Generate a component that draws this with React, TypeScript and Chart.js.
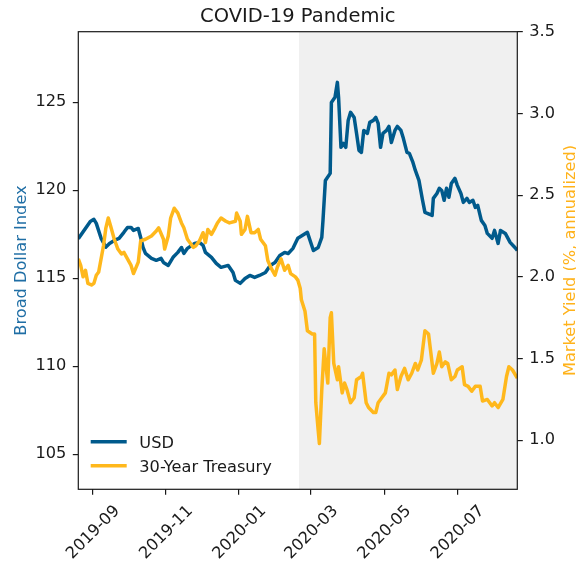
import React, { useEffect, useRef } from "react";
import { Chart, registerables } from "chart.js";

Chart.register(...registerables);

// ---------- data ----------
const usdDates: string[] = [
  "2019-08-20", "2019-08-30", "2019-09-02", "2019-09-04", "2019-09-08", "2019-09-12", "2019-09-15",
  "2019-09-19", "2019-09-23", "2019-09-27", "2019-09-30", "2019-10-03", "2019-10-05", "2019-10-09",
  "2019-10-11", "2019-10-13", "2019-10-15", "2019-10-20", "2019-10-24", "2019-10-28", "2019-10-30",
  "2019-11-03", "2019-11-07", "2019-11-11", "2019-11-14", "2019-11-16", "2019-11-19", "2019-11-25",
  "2019-11-29", "2019-12-02", "2019-12-04", "2019-12-09", "2019-12-13", "2019-12-17", "2019-12-23",
  "2019-12-27", "2019-12-29", "2020-01-02", "2020-01-06", "2020-01-10", "2020-01-14", "2020-01-18",
  "2020-01-23", "2020-01-27", "2020-01-31", "2020-02-04", "2020-02-08", "2020-02-11", "2020-02-15",
  "2020-02-19", "2020-02-23", "2020-02-27", "2020-03-03", "2020-03-07", "2020-03-10", "2020-03-11",
  "2020-03-13", "2020-03-17", "2020-03-18", "2020-03-21", "2020-03-23", "2020-03-24", "2020-03-26",
  "2020-03-28", "2020-03-30", "2020-04-01", "2020-04-03", "2020-04-06", "2020-04-08", "2020-04-10",
  "2020-04-12", "2020-04-14", "2020-04-17", "2020-04-19", "2020-04-22", "2020-04-24", "2020-04-26",
  "2020-04-28", "2020-04-30", "2020-05-03", "2020-05-05", "2020-05-07", "2020-05-10", "2020-05-12",
  "2020-05-15", "2020-05-17", "2020-05-20", "2020-05-22", "2020-05-25", "2020-05-27", "2020-05-30",
  "2020-06-02", "2020-06-04", "2020-06-06", "2020-06-10", "2020-06-11", "2020-06-14", "2020-06-16",
  "2020-06-18", "2020-06-20", "2020-06-22", "2020-06-24", "2020-06-26", "2020-06-29", "2020-07-01",
  "2020-07-04", "2020-07-06", "2020-07-09", "2020-07-11", "2020-07-14", "2020-07-16", "2020-07-18",
  "2020-07-21", "2020-07-24", "2020-07-26", "2020-07-30", "2020-08-01", "2020-08-04", "2020-08-06",
  "2020-08-10", "2020-08-14", "2020-08-18", "2020-08-20",
];
const usdValues: number[] = [
  117.24, 118.22, 118.34, 118.11, 117.26, 116.76, 116.97,
  117.14, 117.26, 117.6, 117.88, 117.88, 117.71, 117.82,
  117.31, 116.74, 116.4, 116.12, 116.01, 116.12, 115.89,
  115.72, 116.18, 116.46, 116.74, 116.4, 116.69, 116.97,
  117.03, 116.86, 116.46, 116.18, 115.84, 115.61, 115.72,
  115.32, 114.87, 114.7, 114.98, 115.15, 115.04, 115.15,
  115.32, 115.72, 115.89, 116.29, 116.46, 116.4, 116.69,
  117.26, 117.43, 117.6, 116.57, 116.74, 117.31, 118.28,
  120.55, 120.95, 124.98, 125.27, 126.12, 125.27, 122.43,
  122.65, 122.43, 123.96, 124.42, 124.13, 123.22, 122.26,
  122.14, 123.39, 123.22, 123.85, 123.96, 124.13, 123.79,
  122.43, 123.22, 123.39, 123.62, 122.71, 123.39, 123.62,
  123.39, 122.94, 122.14, 122.09, 121.57, 121.12, 120.55,
  119.42, 118.73, 118.68, 118.56, 119.53, 119.81, 120.1,
  119.98, 119.42, 120.1, 119.59, 120.38, 120.67, 120.27,
  119.81, 119.3, 119.53, 119.3, 119.42, 119.02, 119.13,
  118.28, 117.99, 117.54, 117.26, 117.71, 116.97, 117.71,
  117.54, 117.03, 116.74, 116.57,
];

const tsyDates: string[] = [
  "2019-08-20", "2019-08-22", "2019-08-24", "2019-08-26", "2019-08-28", "2019-08-31", "2019-09-02",
  "2019-09-04", "2019-09-06", "2019-09-10", "2019-09-12", "2019-09-14", "2019-09-16", "2019-09-19",
  "2019-09-22", "2019-09-25", "2019-09-27", "2019-09-30", "2019-10-03", "2019-10-05", "2019-10-09",
  "2019-10-11", "2019-10-15", "2019-10-20", "2019-10-24", "2019-10-26", "2019-10-30", "2019-10-31",
  "2019-11-03", "2019-11-05", "2019-11-08", "2019-11-11", "2019-11-14", "2019-11-16", "2019-11-19",
  "2019-11-24", "2019-11-26", "2019-11-29", "2019-12-02", "2019-12-04", "2019-12-06", "2019-12-09",
  "2019-12-12", "2019-12-14", "2019-12-17", "2019-12-21", "2019-12-24", "2019-12-29", "2019-12-30",
  "2020-01-02", "2020-01-03", "2020-01-06", "2020-01-08", "2020-01-11", "2020-01-14", "2020-01-17",
  "2020-01-19", "2020-01-23", "2020-01-25", "2020-01-28", "2020-01-31", "2020-02-02", "2020-02-05",
  "2020-02-08", "2020-02-11", "2020-02-13", "2020-02-17", "2020-02-19", "2020-02-21", "2020-02-22",
  "2020-02-25", "2020-02-27", "2020-03-02", "2020-03-04", "2020-03-05", "2020-03-07", "2020-03-08",
  "2020-03-10", "2020-03-12", "2020-03-15", "2020-03-17", "2020-03-18", "2020-03-20", "2020-03-23",
  "2020-03-24", "2020-03-27", "2020-03-29", "2020-03-31", "2020-04-03", "2020-04-06", "2020-04-08",
  "2020-04-12", "2020-04-13", "2020-04-16", "2020-04-18", "2020-04-22", "2020-04-24", "2020-04-26",
  "2020-04-29", "2020-05-02", "2020-05-05", "2020-05-07", "2020-05-10", "2020-05-12", "2020-05-15",
  "2020-05-18", "2020-05-21", "2020-05-24", "2020-05-27", "2020-05-29", "2020-06-01", "2020-06-04",
  "2020-06-07", "2020-06-11", "2020-06-14", "2020-06-16", "2020-06-18", "2020-06-21", "2020-06-23",
  "2020-06-26", "2020-06-29", "2020-07-01", "2020-07-05", "2020-07-07", "2020-07-10", "2020-07-13",
  "2020-07-16", "2020-07-20", "2020-07-22", "2020-07-26", "2020-07-30", "2020-08-01", "2020-08-04",
  "2020-08-08", "2020-08-11", "2020-08-13", "2020-08-16", "2020-08-20",
];
const tsyValues: number[] = [
  2.11, 2.07, 2.0, 2.04, 1.96, 1.95, 1.96,
  2.01, 2.03, 2.19, 2.3, 2.36, 2.31, 2.23,
  2.17, 2.14, 2.15, 2.11, 2.07, 2.02, 2.09,
  2.22, 2.23, 2.25, 2.28, 2.3, 2.23, 2.17,
  2.25, 2.36, 2.42, 2.39, 2.33, 2.3, 2.23,
  2.18, 2.19, 2.22, 2.27, 2.21, 2.29, 2.26,
  2.3, 2.33, 2.36, 2.34, 2.33, 2.34, 2.39,
  2.34, 2.26, 2.29, 2.37, 2.27, 2.27, 2.29,
  2.23, 2.19, 2.1, 2.05, 2.01, 2.06, 2.11,
  2.04, 2.07, 2.02, 2.0, 1.98, 1.93, 1.86,
  1.79, 1.67, 1.65, 1.65, 1.23, 1.06, 0.98,
  1.31, 1.56, 1.35, 1.75, 1.78, 1.47, 1.37,
  1.45, 1.29, 1.35, 1.31, 1.23, 1.26, 1.37,
  1.39, 1.41, 1.23, 1.2, 1.17, 1.17, 1.23,
  1.26, 1.29, 1.41, 1.4, 1.43, 1.31, 1.39,
  1.44, 1.37, 1.41, 1.47, 1.43, 1.49, 1.67,
  1.65, 1.41, 1.47, 1.54, 1.45, 1.48, 1.47,
  1.37, 1.39, 1.43, 1.45, 1.34, 1.33, 1.3,
  1.33, 1.33, 1.24, 1.25, 1.21, 1.23, 1.2,
  1.25, 1.39, 1.45, 1.43, 1.38,
];

const xMonthTicks: string[] = ["2019-09-01", "2019-11-01", "2020-01-01", "2020-03-01", "2020-05-01", "2020-07-01"];
const leftTicks: number[] = [105, 110, 115, 120, 125];
const rightTicks: number[] = [1.0, 1.5, 2.0, 2.5, 3.0, 3.5];
const xRange: string[] = ["2019-08-20", "2020-08-20"];
const leftRange: number[] = [103, 129];
const rightRange: number[] = [0.7, 3.5];
const pandemicStart = "2020-02-20";

const TITLE = "COVID-19 Pandemic";
const LEFT_LABEL = "Broad Dollar Index";
const RIGHT_LABEL = "Market Yield (%, annualized)";
const USD_LABEL = "USD";
const TSY_LABEL = "30-Year Treasury";

// ---------- styles ----------
const BLUE = "#005a8c";
const GOLD = "#ffb81c";
const BLUE_TEXT = "#1f6ea5";
const GOLD_TEXT = "#ffb21a";
const INK = "#1a1a1a";
const FONT = "'DejaVu Sans', Verdana, sans-serif";
const FS = 16.2;

const ts = (s: string) => {
  const [y, m, d] = s.split("-").map(Number);
  return Date.UTC(y, m - 1, d);
};
const fmtMonth = (v: number) => {
  const d = new Date(v);
  return `${d.getUTCFullYear()}-${String(d.getUTCMonth() + 1).padStart(2, "0")}`;
};

const customPlugin = {
  id: "mplStyle",
  beforeDatasetsDraw(chart: any) {
    const { ctx, chartArea: a, scales } = chart;
    const x0 = scales.x.getPixelForValue(ts(pandemicStart));
    ctx.save();
    ctx.fillStyle = "#f0f0f0";
    ctx.fillRect(x0, a.top, a.right - x0, a.bottom - a.top);
    ctx.restore();
  },
  afterDatasetsDraw(chart: any) {
    const { ctx, chartArea: a } = chart;
    ctx.save();
    // frame
    ctx.strokeStyle = INK;
    ctx.lineWidth = 1.2;
    ctx.strokeRect(a.left, a.top, a.right - a.left, a.bottom - a.top);
    // legend
    const items = [
      { label: USD_LABEL, color: BLUE, y: a.bottom - 47.6 },
      { label: TSY_LABEL, color: GOLD, y: a.bottom - 23.6 },
    ];
    ctx.font = `${FS}px ${FONT}`;
    ctx.textAlign = "left";
    ctx.textBaseline = "alphabetic";
    for (const it of items) {
      ctx.strokeStyle = it.color;
      ctx.lineWidth = 3.5;
      ctx.lineCap = "butt";
      ctx.beginPath();
      ctx.moveTo(a.left + 12.4, it.y);
      ctx.lineTo(a.left + 48.4, it.y);
      ctx.stroke();
      ctx.fillStyle = INK;
      ctx.fillText(it.label, a.left + 61, it.y + 6);
    }
    ctx.restore();
  },
  afterDraw(chart: any) {
    const { ctx, chartArea: a, scales } = chart;
    const midY = (a.top + a.bottom) / 2;
    ctx.save();
    // title
    ctx.fillStyle = INK;
    ctx.font = `19.5px ${FONT}`;
    ctx.textAlign = "center";
    ctx.textBaseline = "alphabetic";
    ctx.fillText(TITLE, (a.left + a.right) / 2, a.top - 10);
    // axis titles
    ctx.font = `${FS}px ${FONT}`;
    ctx.save();
    ctx.translate(26, midY);
    ctx.rotate(-Math.PI / 2);
    ctx.fillStyle = BLUE_TEXT;
    ctx.fillText(LEFT_LABEL, 0, 0);
    ctx.restore();
    ctx.save();
    ctx.translate(575, midY);
    ctx.rotate(-Math.PI / 2);
    ctx.fillStyle = GOLD_TEXT;
    ctx.fillText(RIGHT_LABEL, 0, 0);
    ctx.restore();
    // rotated x tick labels (centered, matplotlib style)
    ctx.fillStyle = INK;
    for (const t of xMonthTicks) {
      const v = ts(t);
      const x = scales.x.getPixelForValue(v);
      ctx.save();
      ctx.translate(x - 0.6, a.bottom + 42);
      ctx.rotate(-Math.PI / 4);
      ctx.textAlign = "center";
      ctx.fillText(fmtMonth(v), 0, FS * 0.365);
      ctx.restore();
    }
    ctx.restore();
  },
};

export default function App() {
  const canvasRef = useRef<HTMLCanvasElement | null>(null);

  useEffect(() => {
    document.body.style.margin = "0";
    const canvas = canvasRef.current;
    if (!canvas) return;
    Chart.defaults.font.family = FONT;
    Chart.defaults.font.size = FS;
    Chart.defaults.color = INK;

    const usdData = usdDates.map((d, i) => ({ x: ts(d), y: usdValues[i] }));
    const tsyData = tsyDates.map((d, i) => ({ x: ts(d), y: tsyValues[i] }));

    const tickGrid = {
      display: true,
      drawOnChartArea: false,
      drawTicks: true,
      tickLength: 5.5,
      color: INK,
      lineWidth: 1.2,
    };

    const chart = new Chart(canvas, {
      type: "line",
      data: {
        datasets: [
          {
            label: TSY_LABEL,
            data: tsyData,
            yAxisID: "y1",
            borderColor: GOLD,
            backgroundColor: GOLD,
            borderWidth: 3.5,
            pointRadius: 0,
            tension: 0,
            borderJoinStyle: "round",
            order: 0,
          },
          {
            label: USD_LABEL,
            data: usdData,
            yAxisID: "y",
            borderColor: BLUE,
            backgroundColor: BLUE,
            borderWidth: 3.5,
            pointRadius: 0,
            tension: 0,
            borderJoinStyle: "round",
            order: 1,
          },
        ],
      },
      options: {
        responsive: false,
        animation: false,
        devicePixelRatio: 1,
        layout: { padding: { top: 31.7, left: 0, right: 0, bottom: 0 } },
        plugins: {
          legend: { display: false },
          title: { display: false },
          tooltip: { enabled: false },
        },
        scales: {
          x: {
            type: "linear",
            position: "bottom",
            min: ts(xRange[0]),
            max: ts(xRange[1]),
            grid: tickGrid,
            border: { display: false },
            ticks: { display: false },
            afterBuildTicks: (s: any) => {
              s.ticks = xMonthTicks.map((t) => ({ value: ts(t) }));
            },
            afterFit: (s: any) => {
              s.height = 71.7;
            },
          },
          y: {
            type: "linear",
            position: "left",
            min: leftRange[0],
            max: leftRange[1],
            grid: tickGrid,
            border: { display: false },
            ticks: {
              padding: 6.5,
              color: INK,
              font: { size: FS, family: FONT },
              callback: (v: any) => String(v),
            },
            afterBuildTicks: (s: any) => {
              s.ticks = leftTicks.map((v) => ({ value: v }));
            },
            afterFit: (s: any) => {
              s.width = 78.3;
            },
          },
          y1: {
            type: "linear",
            position: "right",
            min: rightRange[0],
            max: rightRange[1],
            grid: tickGrid,
            border: { display: false },
            ticks: {
              padding: 6.5,
              color: INK,
              font: { size: FS, family: FONT },
              callback: (v: any) => Number(v).toFixed(1),
            },
            afterBuildTicks: (s: any) => {
              s.ticks = rightTicks.map((v) => ({ value: v }));
            },
            afterFit: (s: any) => {
              s.width = 58.7;
            },
          },
        },
      },
      plugins: [customPlugin],
    } as any);

    return () => chart.destroy();
  }, []);

  return (
    <div style={{ position: "absolute", left: 0, top: 0, width: 576, height: 561 }}>
      <canvas ref={canvasRef} width={576} height={561} style={{ width: 576, height: 561 }} />
    </div>
  );
}
